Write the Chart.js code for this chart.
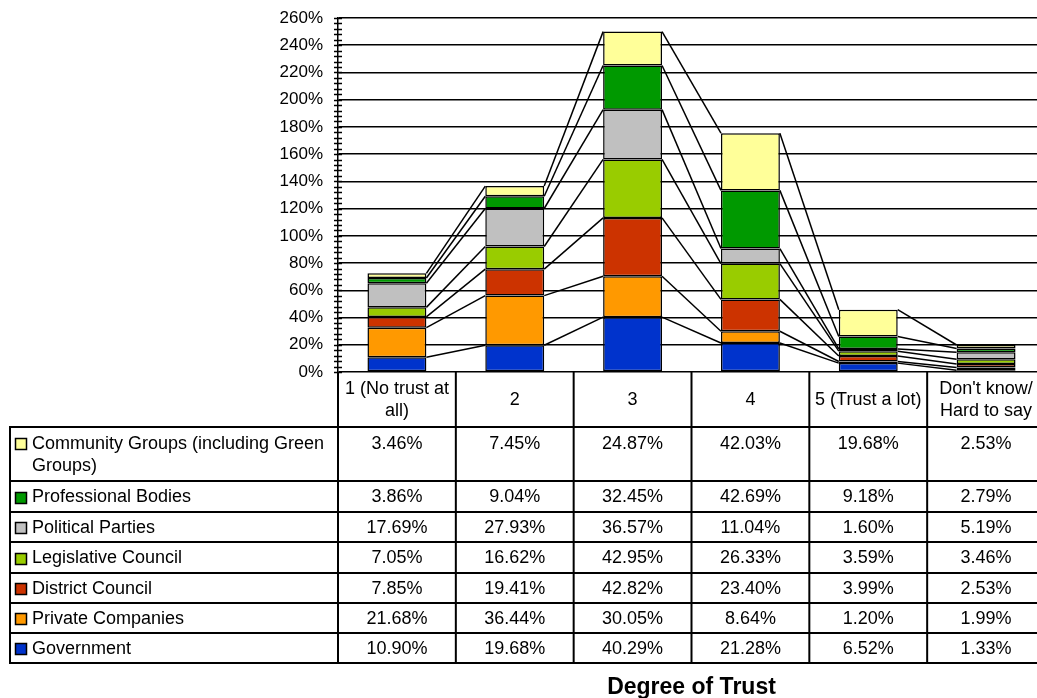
<!DOCTYPE html>
<html>
<head>
<meta charset="utf-8">
<script src="https://cdn.jsdelivr.net/npm/chart.js@4/dist/chart.umd.min.js"></script>
<style>
  html, body { margin: 0; padding: 0; background: #fff; overflow: hidden; }
</style>
</head>
<body>
<canvas id="chart-canvas" width="1045" height="698"></canvas>
<script>
// categories along the x axis
var categories = ["1 (No trust at all)", "2", "3", "4", "5 (Trust a lot)", "Don't know/ Hard to say"];

// series, bottom of the stack first
var seriesNames = ["Government", "Private Companies", "District Council", "Legislative Council",
  "Political Parties", "Professional Bodies", "Community Groups (including Green Groups)"];
var seriesColors = ["#0033CC", "#FF9900", "#CC3300", "#99CC00", "#C0C0C0", "#009900", "#FFFF99"];

var government         = [10.90, 19.68, 40.29, 21.28, 6.52, 1.33];
var privateCompanies   = [21.68, 36.44, 30.05, 8.64, 1.20, 1.99];
var districtCouncil    = [7.85, 19.41, 42.82, 23.40, 3.99, 2.53];
var legislativeCouncil = [7.05, 16.62, 42.95, 26.33, 3.59, 3.46];
var politicalParties   = [17.69, 27.93, 36.57, 11.04, 1.60, 5.19];
var professionalBodies = [3.86, 9.04, 32.45, 42.69, 9.18, 2.79];
var communityGroups    = [3.46, 7.45, 24.87, 42.03, 19.68, 2.53];

var seriesValues = [government, privateCompanies, districtCouncil, legislativeCouncil,
  politicalParties, professionalBodies, communityGroups];

// y axis: 0% .. 260%, labels every 20%, small ticks every 4%
var yMax = 260;
var yStep = 20;
var yMinorStep = 4;

var axisTitle = "Degree of Trust";

var FONT = '"Liberation Sans", Arial, sans-serif';

// split text into lines no wider than maxWidth
function wrapText(ctx, text, maxWidth)
{
  var words = text.split(" ");
  var lines = [];
  var line = "";
  words.forEach(function(w) {
    var test = line ? line + " " + w : w;
    if (line && ctx.measureText(test).width > maxWidth) {
      lines.push(line);
      line = w;
    } else {
      line = test;
    }
  });
  if (line) lines.push(line);
  return lines;
}

// series lines, small axis ticks, data table and axis title (Excel style)
var excelExtras = {
  id: 'excelExtras',
  afterDatasetsDraw: function(chart) {
    var ctx = chart.ctx;
    ctx.save();
    ctx.strokeStyle = "#000";
    ctx.lineWidth = 1.5;
    chart.data.datasets.forEach(function(ds, i) {
      var bars = chart.getDatasetMeta(i).data;
      for (var j = 0; j < bars.length - 1; j++) {
        var a = bars[j], b = bars[j + 1];
        ctx.beginPath();
        ctx.moveTo(a.x + a.width / 2, a.y);
        ctx.lineTo(b.x - b.width / 2, b.y);
        ctx.stroke();
      }
    });
    ctx.restore();
  },
  afterDraw: function(chart) {
    var ctx = chart.ctx;
    var area = chart.chartArea;
    var xScale = chart.scales.x;
    var yScale = chart.scales.y;
    ctx.save();
    ctx.strokeStyle = "#000";
    ctx.lineWidth = 1.5;

    // small ticks crossing the value axis
    for (var v = 0; v <= yMax; v += yMinorStep) {
      var ty = Math.round(yScale.getPixelForValue(v)) + 0.5;
      ctx.beginPath();
      ctx.moveTo(area.left - 4, ty);
      ctx.lineTo(area.left + 4, ty);
      ctx.stroke();
    }

    // data table
    var colW = xScale.getPixelForValue(1) - xScale.getPixelForValue(0);
    var tableLeft = 10;
    var headerTop = area.bottom;
    var headerH = 55;
    var rowHeights = [54, 31, 30, 31, 30, 30, 30];
    var lineH = 22;
    var rowTops = [];
    var y = headerTop + headerH;
    rowHeights.forEach(function(h) { rowTops.push(y); y += h; });
    var tableBottom = y;

    ctx.font = "18px " + FONT;
    ctx.fillStyle = "#000";
    ctx.textBaseline = "middle";
    ctx.lineWidth = 2;

    // horizontal rules
    rowTops.concat([tableBottom]).forEach(function(ry) {
      ctx.beginPath();
      ctx.moveTo(tableLeft, ry);
      ctx.lineTo(area.right, ry);
      ctx.stroke();
    });
    // vertical rules
    ctx.beginPath();
    ctx.moveTo(tableLeft, rowTops[0] - 1);
    ctx.lineTo(tableLeft, tableBottom + 1);
    ctx.stroke();
    for (var k = 0; k <= categories.length; k++) {
      var cx = area.left + k * colW;
      ctx.beginPath();
      ctx.moveTo(cx, headerTop);
      ctx.lineTo(cx, tableBottom + 1);
      ctx.stroke();
    }

    // header cells
    ctx.textAlign = "center";
    categories.forEach(function(cat, j) {
      var cx = xScale.getPixelForValue(j);
      var lines = wrapText(ctx, cat, 112);
      var y0 = headerTop + headerH / 2 - (lines.length - 1) * lineH / 2 + 1;
      lines.forEach(function(l, n) { ctx.fillText(l, cx, y0 + n * lineH); });
    });

    // one row per series, top of the stack first
    for (var r = 0; r < seriesNames.length; r++) {
      var s = seriesNames.length - 1 - r;
      var top = rowTops[r];
      var h = rowHeights[r];
      ctx.textAlign = "left";
      var lines = wrapText(ctx, seriesNames[s], 303);
      var y0 = top + h / 2 - (lines.length - 1) * lineH / 2 + 1;
      lines.forEach(function(l, n) { ctx.fillText(l, 32, y0 + n * lineH); });
      // legend key
      ctx.fillStyle = seriesColors[s];
      ctx.fillRect(15.5, Math.round(y0) - 5.5, 11, 11);
      ctx.lineWidth = 1.5;
      ctx.strokeRect(15.5, Math.round(y0) - 5.5, 11, 11);
      ctx.lineWidth = 2;
      ctx.fillStyle = "#000";
      ctx.textAlign = "center";
      seriesValues[s].forEach(function(val, j) {
        ctx.fillText(val.toFixed(2) + "%", xScale.getPixelForValue(j), y0);
      });
    }

    // axis title
    ctx.font = "bold 23px " + FONT;
    ctx.textAlign = "center";
    ctx.fillText(axisTitle, (area.left + area.right) / 2, 688);
    ctx.restore();
  }
};

var ctx = document.getElementById("chart-canvas");

var chartCanvas = new Chart(ctx, {
  type: 'bar',
  data: {
    labels: categories,
    datasets: seriesNames.map(function(name, i) {
      return {
        label: name,
        data: seriesValues[i],
        backgroundColor: seriesColors[i],
        borderColor: "#000",
        borderWidth: 1.5,
        borderSkipped: false,
        categoryPercentage: 1.0,
        barPercentage: 0.5
      };
    })
  },
  plugins: [excelExtras],
  options: {
    responsive: false,
    animation: false,
    layout: { padding: { top: 18, bottom: 326, left: 0, right: 0 } },
    plugins: {
      legend: { display: false },
      tooltip: { enabled: false }
    },
    scales: {
      x: {
        stacked: true,
        display: false
      },
      y: {
        stacked: true,
        min: 0,
        max: yMax,
        afterFit: function(scale) { scale.width = 338; },
        border: { display: true, color: "#000", width: 1.5 },
        // invisible tick marks keep the labels off the axis without padding the top
        grid: { color: "#000", lineWidth: 1.5, drawTicks: true, tickLength: 15, tickColor: "rgba(0,0,0,0)" },
        ticks: {
          stepSize: yStep,
          padding: 0,
          color: "#000",
          font: { family: FONT, size: 17 },
          callback: function(v) { return v + "%"; }
        }
      }
    }
  }
});
</script>
</body>
</html>
